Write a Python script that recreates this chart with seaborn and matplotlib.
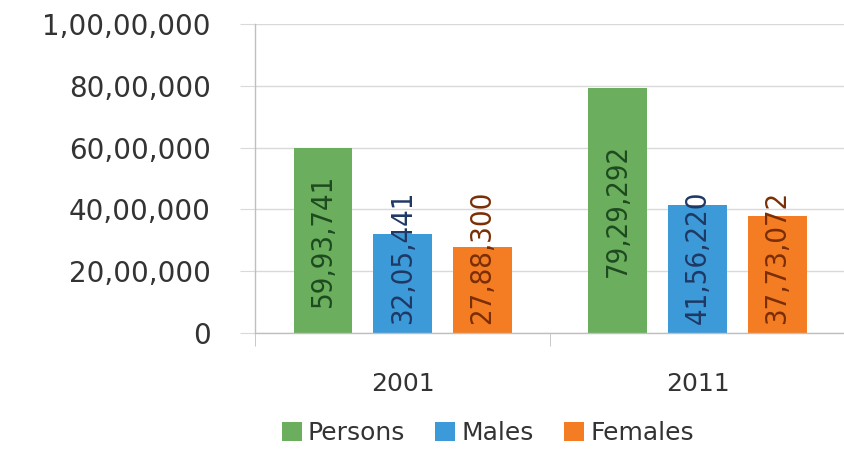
import matplotlib
matplotlib.use('Agg')
import matplotlib.pyplot as plt
import pandas as pd
import seaborn as sns
from matplotlib import font_manager
from matplotlib.patches import Patch
from matplotlib.ticker import FuncFormatter

YEARS = ['2001', '2011']
SERIES = ['Persons', 'Males', 'Females']
PERSONS = [5993741, 7929292]
MALES = [3205441, 4156220]
FEMALES = [2788300, 3773072]
Y_TICKS = [0, 2000000, 4000000, 6000000, 8000000, 10000000]

COLORS = ['#6aae5e', '#3d9ad8', '#f47c22']
TEXT_COLORS = ['#1d4a1f', '#1f3864', '#7a2e05']


def indian_format(value, pos=None):
    s = str(int(round(value)))
    if len(s) <= 3:
        return s
    head, tail = s[:-3], s[-3:]
    groups = []
    while len(head) > 2:
        groups.insert(0, head[-2:])
        head = head[:-2]
    if head:
        groups.insert(0, head)
    return ','.join(groups + [tail])


def narrow_font():
    # look for any condensed face that is installed
    for f in font_manager.fontManager.ttflist:
        name = (f.name + ' ' + f.fname).lower()
        if ('condensed' in name or 'narrow' in name) and f.weight in (400, 'normal', 'regular') \
                and f.style == 'normal':
            return font_manager.FontProperties(fname=f.fname, size=21)
    return None


def main():
    df = pd.DataFrame({
        'year': YEARS * 3,
        'series': [s for s in SERIES for _ in YEARS],
        'value': PERSONS + MALES + FEMALES,
    })

    fig = plt.figure(figsize=(8.45, 4.5), dpi=100)
    ax = fig.add_axes([0.302, 0.26, 0.698, 0.687])
    sns.barplot(ax=ax, data=df, x='year', y='value', hue='series', order=YEARS, hue_order=SERIES,
                palette=COLORS, width=0.81, gap=0.26, saturation=1, errorbar=None, legend=False)

    label_font = narrow_font()
    if label_font is None:
        label_font = font_manager.FontProperties(family='DejaVu Sans', size=15.5)

    # value labels, centred in the bar but kept clear of the base
    for container, tcolor in zip(ax.containers, TEXT_COLORS):
        for patch in container:
            h = patch.get_height()
            xc = patch.get_x() + patch.get_width() / 2
            ax.text(xc, max(h / 2, 2450000), indian_format(h), rotation=90, ha='center', va='center',
                    color=tcolor, fontproperties=label_font)

    ax.set_xlim(-0.5, 1.5)
    ax.set_ylim(0, 10000000)
    ax.set_yticks(Y_TICKS)
    ax.yaxis.set_major_formatter(FuncFormatter(indian_format))
    ax.set_xlabel('')
    ax.set_ylabel('')

    grid_color = '#d9d9d9'
    ax.grid(axis='y', color=grid_color, linewidth=1)
    ax.set_axisbelow(True)
    for side in ['top', 'right']:
        ax.spines[side].set_visible(False)
    for side in ['left', 'bottom']:
        ax.spines[side].set_color('#bfbfbf')
        ax.spines[side].set_linewidth(1)

    ax.tick_params(axis='y', length=11, color=grid_color, pad=21, labelsize=20, labelcolor='#333333')
    ax.tick_params(axis='x', which='major', length=0, pad=28, labelsize=18, labelcolor='#333333')
    ax.set_xticks([-0.5, 0.5, 1.5], minor=True)
    ax.tick_params(axis='x', which='minor', length=9, color='#bfbfbf', direction='out')

    handles = [Patch(facecolor=c, edgecolor='none') for c in COLORS]
    fig.legend(handles, SERIES, loc='lower center', bbox_to_anchor=(0.577, -0.04), ncol=3, frameon=False,
               fontsize=18, handlelength=0.8, handleheight=0.8, handletextpad=0.25, columnspacing=1.2,
               labelcolor='#333333')

    fig.savefig('out.png', dpi=100)


if __name__ == '__main__':
    main()
